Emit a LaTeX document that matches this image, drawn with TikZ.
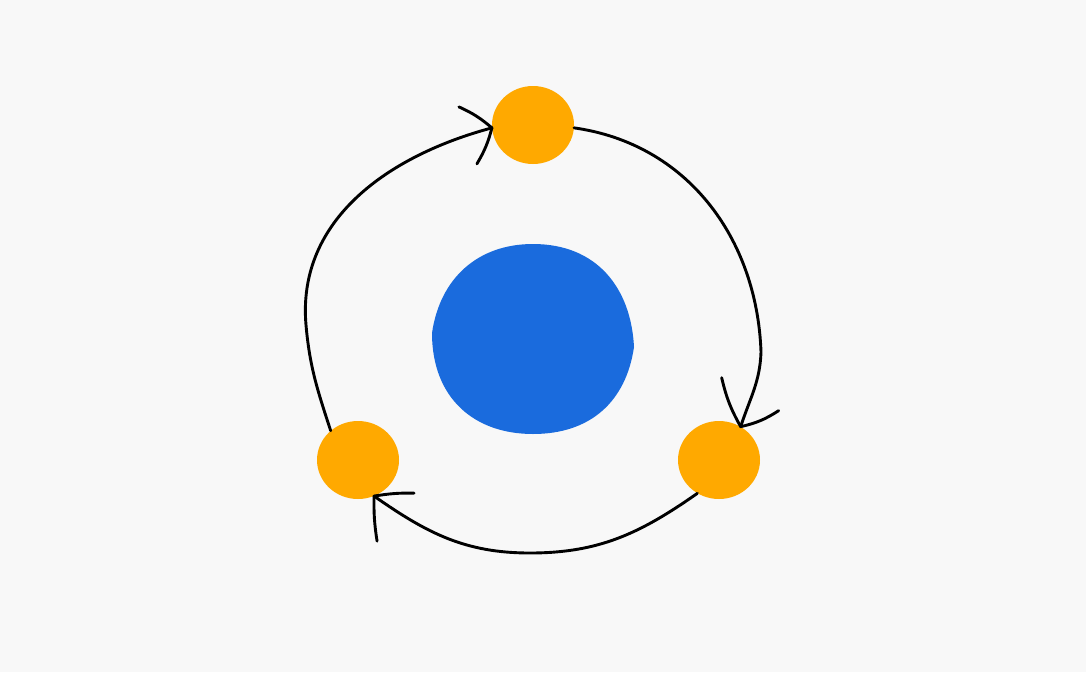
\documentclass[tikz,border=0pt]{standalone}
\usetikzlibrary{shapes.geometric}
\definecolor{bg}{HTML}{F8F8F8}
\definecolor{dotorange}{HTML}{FFA900}
\definecolor{coreblue}{HTML}{1A6BDD}
\begin{document}
\begin{tikzpicture}[x=1pt,y=-1pt,
  dot/.style={ellipse,fill=dotorange,draw=none,minimum width=82pt,minimum height=78pt,inner sep=0pt},
  flow/.style={draw=black,line width=2.9pt,line cap=round,line join=round},
  head/.style={draw=black,line width=2.9pt,line cap=round}]
\fill[bg] (0,0) rectangle (1086,672);
\useasboundingbox (0,0) rectangle (1086,672);
% central blob
\fill[coreblue] (432,333) .. controls (440,278) and (478,244) .. (533,244)
  .. controls (597,244) and (631,288) .. (634,347)
  .. controls (626,402) and (590,434) .. (533,434)
  .. controls (474,434) and (432,398) .. (432,333) -- cycle;
\node[dot] (t) at (533,125) {};
\node[dot] (r) at (719,460) {};
\node[dot] (l) at (358,460) {};
\coordinate (m1) at (761,352);
\coordinate (m2) at (530,553);
\coordinate (m3) at (306,325);
% arc top -> right
\draw[flow] (t.-4) to[out=-8,in=92] (m1) to[out=-92,in=72] (r.57);
\draw[head] (r.57) to[bend left=8] ++(-19,-49);
\draw[head] (r.57) to[bend right=10] ++(38,-16);
% arc right -> left
\draw[flow] (r.237) to[out=-145,in=0] (m2) to[out=180,in=-35] (l.-66);
\draw[head] (l.-66) to[bend left=5] ++(40,-3);
\draw[head] (l.-66) to[bend right=5] ++(3,45);
% arc left -> top
\draw[flow] (l.133) to[out=108,in=-85] (m3) to[out=95,in=195] (t.184);
\draw[head] (t.184) to[bend right=8] ++(-33,-21);
\draw[head] (t.184) to[bend left=8] ++(-15,36);
\end{tikzpicture}
\end{document}
